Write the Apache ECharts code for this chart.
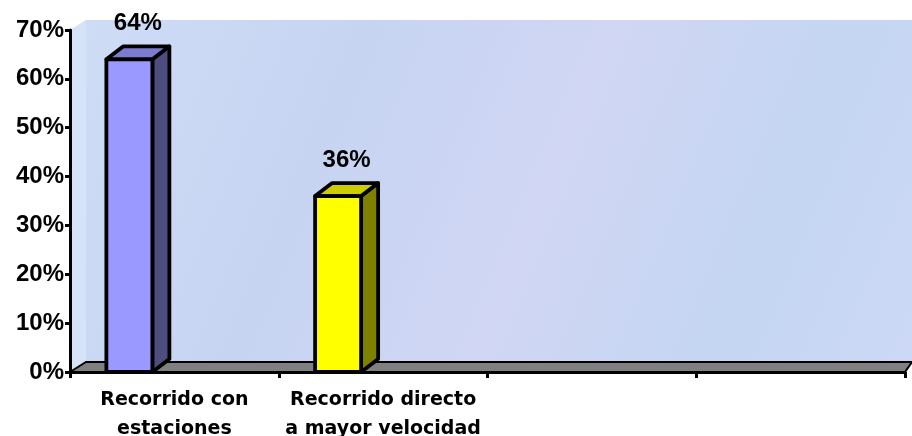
<!DOCTYPE html>
<html><head><meta charset="utf-8">
<script src="https://cdn.jsdelivr.net/npm/echarts@6/dist/echarts.min.js"></script>
<style>html,body{margin:0;padding:0;background:#fff}#c{width:912px;height:436px}</style>
</head><body><div id="c"></div>
<script>
const categories = ['Recorrido con\nestaciones', 'Recorrido directo\na mayor velocidad', '', ''];
const values = [64, 36, null, null];
const yTicks = [0, 10, 20, 30, 40, 50, 60, 70];
const barColors = [
  {front: '#9999ff', side: '#4d4d80', top: '#7b7bd0'},
  {front: '#ffff00', side: '#808000', top: '#cccc00'}
];

const G = {left: 70, right: 7, top: 30, bottom: 64};
const W = 912, H = 436;
const DX = 16, DY = -10;      // wall depth
const BDX = 17, BDY = -13;    // bar depth
const BW = 46, SHIFT = -45;

const chart = echarts.init(document.getElementById('c'), null, {renderer: 'canvas'});
const x0 = G.left, x1 = W - G.right, y0 = H - G.bottom, yTop = G.top;
const font = '"Liberation Sans", Arial, sans-serif';
const wideFont = '"DejaVu Sans", sans-serif';

function renderBar(params, api) {
  const cat = api.value(0), val = api.value(1);
  const t = api.coord([cat, val]);
  const b = api.coord([cat, 0]);
  const cx = t[0] + SHIFT;
  const l = cx - BW / 2, r = cx + BW / 2;
  const c = barColors[cat];
  const st = {stroke: '#000', lineWidth: 3.8, lineJoin: 'round'};
  return {
    type: 'group',
    children: [
      {type: 'polygon', shape: {points: [[r, b[1]], [r + BDX, b[1] + BDY], [r + BDX, t[1] + BDY], [r, t[1]]]}, style: Object.assign({fill: c.side}, st)},
      {type: 'polygon', shape: {points: [[l, t[1]], [l + BDX, t[1] + BDY], [r + BDX, t[1] + BDY], [r, t[1]]]}, style: Object.assign({fill: c.top}, st)},
      {type: 'rect', shape: {x: l, y: t[1], width: BW, height: b[1] - t[1]}, style: Object.assign({fill: c.front}, st)},
      {type: 'text', x: cx + BDX / 2, y: t[1] + BDY - 23, style: {text: val + '%', font: 'bold 24px ' + font, fill: '#000', align: 'center', verticalAlign: 'middle'}}
    ]
  };
}

const barData = values.map((v, i) => v == null ? null : [i, v]).filter(d => d);

chart.setOption({
  animation: false,
  backgroundColor: '#fff',
  grid: {left: G.left, right: G.right, top: G.top, bottom: G.bottom, containLabel: false, outerBoundsMode: 'none'},
  graphic: [
    {type: 'rect', z: -10, shape: {x: x0 + DX, y: yTop + DY, width: W - x0 - DX, height: y0 - yTop}, style: {fill: new echarts.graphic.LinearGradient(0, 0, 1, 1, [
      {offset: 0, color: '#cfdcf6'}, {offset: 0.3, color: '#c6d4f2'}, {offset: 0.55, color: '#d0d6f4'}, {offset: 0.8, color: '#c4d6f2'}, {offset: 1, color: '#ccd8f5'}])}},
    {type: 'polygon', z: -10, shape: {points: [[x0, yTop], [x0 + DX, yTop + DY], [x0 + DX, y0 + DY], [x0, y0]]}, style: {fill: '#d6e2f8'}},
    {type: 'polygon', z: -9, shape: {points: [[x0, y0], [x0 + DX, y0 + DY], [W, y0 + DY], [x1, y0]]}, style: {fill: '#808080', stroke: '#000', lineWidth: 2}}
  ],
  xAxis: {
    type: 'category', data: categories, boundaryGap: true,
    axisLine: {show: true, lineStyle: {color: '#000', width: 3}},
    axisTick: {show: true, length: 6, lineStyle: {color: '#000', width: 3}},
    axisLabel: {color: '#000', fontFamily: wideFont, fontWeight: 'bold', fontSize: 19, lineHeight: 29, margin: 14, interval: 0},
    splitLine: {show: false}
  },
  yAxis: {
    type: 'value', min: 0, max: 70, interval: 10,
    axisLine: {show: true, lineStyle: {color: '#000', width: 3}},
    axisTick: {show: true, length: 5, lineStyle: {color: '#000', width: 3}},
    axisLabel: {color: '#000', fontFamily: font, fontWeight: 'bold', fontSize: 24, margin: 6, formatter: v => yTicks.includes(v) ? v + '%' : ''},
    splitLine: {show: false}
  },
  series: [{type: 'custom', renderItem: renderBar, data: barData, z: 5, clip: false}]
});
</script></body></html>
